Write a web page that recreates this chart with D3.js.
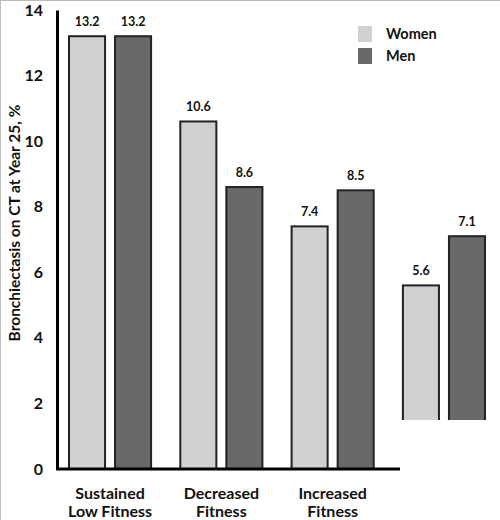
<!DOCTYPE html>
<html><head><meta charset="utf-8">
<script src="https://cdn.jsdelivr.net/npm/d3@7"></script>
<style>body{margin:0;background:#fff}svg{display:block}text{font-family:Lato,"Open Sans",sans-serif;font-weight:bold;fill:#111}</style>
</head><body><svg id="c" width="500" height="520"></svg>
<script>
const categories = [["Sustained","Low Fitness"],["Decreased","Fitness"],["Increased","Fitness"],["",""]];
const series = ["Women","Men"];
const women = [13.2, 10.6, 7.4, 5.6];
const men = [13.2, 8.6, 8.5, 7.1];
const yTicks = [0,2,4,6,8,10,12,14];
const colors = {Women:"#d0d0d0", Men:"#696969"};

const svg = d3.select("#c");
svg.append("rect").attr("x",0.5).attr("y",0.5).attr("width",510).attr("height",530)
  .attr("fill","none").attr("stroke","#bbb");

const y = d3.scaleLinear().domain([0,14]).range([469,10]);
const x0 = d3.scaleBand().domain(d3.range(categories.length)).range([54.4,499.6]).padding(0);
const x1 = d3.scaleBand().domain(series).range([14.6,96.7]).paddingInner(0.217).paddingOuter(0);

const clip = svg.append("defs").append("clipPath").attr("id","cp");
clip.append("path").attr("d","M0,0H500V420H400V520H0Z");

const data = categories.map((c,i)=>({i, vals:[{s:"Women",v:women[i]},{s:"Men",v:men[i]}]}));
const g = svg.append("g").attr("clip-path","url(#cp)");
const grp = g.selectAll("g.grp").data(data).join("g").attr("transform",d=>`translate(${x0(d.i)},0)`);
grp.selectAll("rect").data(d=>d.vals).join("rect")
  .attr("x",d=>x1(d.s)).attr("width",x1.bandwidth())
  .attr("y",d=>y(d.v)).attr("height",d=>y(0)-y(d.v))
  .attr("fill",d=>colors[d.s]).attr("stroke","#222").attr("stroke-width",2);
grp.selectAll("text").data(d=>d.vals).join("text")
  .attr("x",d=>x1(d.s)+x1.bandwidth()/2).attr("y",d=>y(d.v)-10)
  .attr("text-anchor","middle").style("font-size","12.5px").text(d=>d.v.toFixed(1));

// axes
const yAxis = d3.axisLeft(y).tickValues(yTicks).tickSize(0).tickPadding(14).tickFormat(d3.format("d"));
const ya = svg.append("g").attr("transform","translate(57,0)").call(yAxis);
ya.select(".domain").attr("stroke","#000").attr("stroke-width",3);
ya.selectAll(".tick text").style("font-size","16px").attr("fill","#111").style("font-family","Lato,sans-serif").style("font-weight","bold");
svg.append("line").attr("x1",56).attr("x2",400).attr("y1",y(0)).attr("y2",y(0)).attr("stroke","#000").attr("stroke-width",3);

// category labels
categories.slice(0,3).forEach((c,i)=>{
  const cx = x0(i)+x0.bandwidth()/2;
  svg.append("text").attr("x",cx).attr("y",499).attr("text-anchor","middle").style("font-size","16px").text(c[0]);
  svg.append("text").attr("x",cx).attr("y",517).attr("text-anchor","middle").style("font-size","16px").text(c[1]);
});

svg.append("text").attr("transform","translate(15,223) rotate(-90)").attr("text-anchor","middle")
  .attr("dy","0.35em").style("font-size","15.5px").text("Bronchiectasis on CT at Year 25, %");

// legend
const lg = svg.append("g").selectAll("g").data(series).join("g").attr("transform",(d,i)=>`translate(358,${26+i*22})`);
lg.append("rect").attr("width",14).attr("height",16).attr("fill",d=>colors[d]);
lg.append("text").attr("x",28).attr("y",8).attr("dy","0.35em").style("font-size","14.5px").text(d=>d);
</script></body></html>
